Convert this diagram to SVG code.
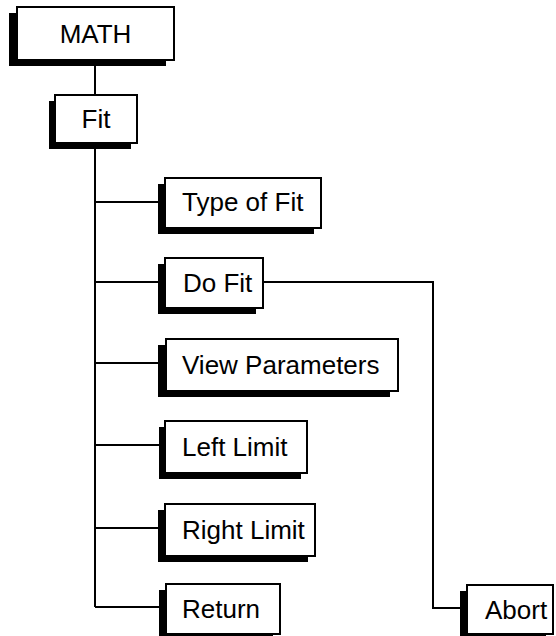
<svg xmlns="http://www.w3.org/2000/svg" width="556" height="636" viewBox="0 0 556 636">
<style>
.sh{fill:#000}
.bx{fill:#fff;stroke:#000;stroke-width:2}
.t{font-family:"Liberation Sans",Arial,sans-serif;font-size:26px;fill:#000}
.c{fill:none;stroke:#000;stroke-width:2}
</style>
<rect width="556" height="636" fill="#fff"/>
<g id="connectors">
<path class="c" d="M95 60V95"/>
<path class="c" d="M95 143V607"/>
<path class="c" d="M95 202H165"/>
<path class="c" d="M95 282H165"/>
<path class="c" d="M95 363H166"/>
<path class="c" d="M95 445H165"/>
<path class="c" d="M95 528H165"/>
<path class="c" d="M95 607H166"/>
<path class="c" d="M263 282H433V608H467"/>
</g>
<g id="math">
<rect class="sh" x="9" y="13" width="157" height="53"/>
<rect class="bx" x="17" y="7" width="157" height="53"/>
<text class="t" x="95.5" y="43" text-anchor="middle">MATH</text>
</g>
<g id="fit">
<rect class="sh" x="49" y="101" width="82" height="48"/>
<rect class="bx" x="55" y="95" width="82" height="48"/>
<text class="t" x="96" y="128" text-anchor="middle">Fit</text>
</g>
<g id="type-of-fit">
<rect class="sh" x="158" y="184" width="156" height="50"/>
<rect class="bx" x="165" y="178" width="156" height="50"/>
<text class="t" x="182" y="211">Type of Fit</text>
</g>
<g id="do-fit">
<rect class="sh" x="158" y="264" width="98" height="50"/>
<rect class="bx" x="165" y="258" width="98" height="50"/>
<text class="t" x="183" y="292">Do Fit</text>
</g>
<g id="view-parameters">
<rect class="sh" x="158" y="345" width="232" height="52"/>
<rect class="bx" x="166" y="339" width="232" height="52"/>
<text class="t" x="182" y="374">View Parameters</text>
</g>
<g id="left-limit">
<rect class="sh" x="159" y="427" width="142" height="52"/>
<rect class="bx" x="165" y="421" width="142" height="52"/>
<text class="t" x="182" y="456">Left Limit</text>
</g>
<g id="right-limit">
<rect class="sh" x="158" y="510" width="150" height="52"/>
<rect class="bx" x="165" y="504" width="150" height="52"/>
<text class="t" x="182" y="539">Right Limit</text>
</g>
<g id="return">
<rect class="sh" x="159" y="590" width="114" height="50"/>
<rect class="bx" x="166" y="584" width="114" height="50"/>
<text class="t" x="182" y="618">Return</text>
</g>
<g id="abort">
<rect class="sh" x="460" y="591" width="86" height="49"/>
<rect class="bx" x="467" y="585" width="86" height="49"/>
<text class="t" x="485" y="619">Abort</text>
</g>
</svg>
